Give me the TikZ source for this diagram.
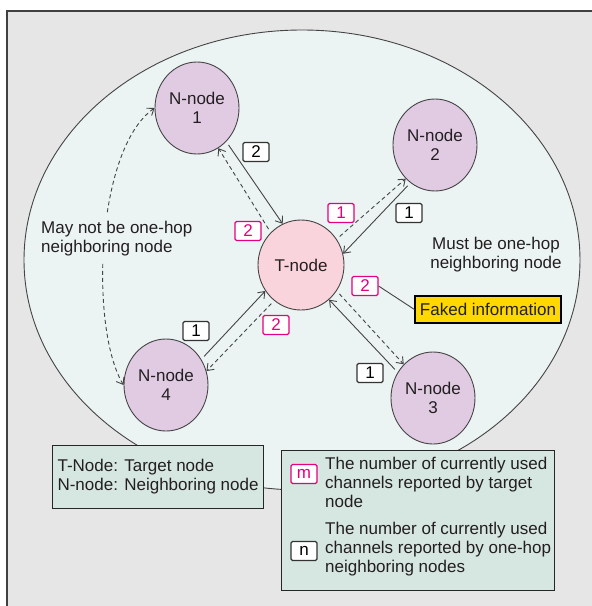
\documentclass[tikz,border=0pt]{standalone}
\usepackage{fontspec}
\setmainfont{Liberation Sans}
\usetikzlibrary{shapes.geometric,arrows.meta}
\definecolor{bg}{HTML}{E6E6E6}
\definecolor{ellfill}{HTML}{ECF3F3}
\definecolor{nfill}{HTML}{E1CBE3}
\definecolor{tfill}{HTML}{FAD4DC}
\definecolor{pinkc}{HTML}{E5007D}
\definecolor{legfill}{HTML}{D6E6E1}
\definecolor{txt}{HTML}{231F20}
\definecolor{yel}{HTML}{FFD800}
\definecolor{lne}{HTML}{444444}
\begin{document}
\begin{tikzpicture}[x=1pt,y=-1pt,
  font=\fontsize{17}{19}\selectfont, text=txt,
  >={Straight Barb[length=6pt,width=9pt]},
  nnode/.style={ellipse, draw=lne, line width=0.9pt, fill=nfill, minimum width=84pt, minimum height=92pt, inner sep=0pt, align=center},
  tnode/.style={nnode, fill=tfill, minimum width=86pt, minimum height=90pt},
  pl/.style={draw=pinkc, line width=1.1pt, fill=white, text=pinkc, rounded corners=1.5pt, minimum width=26pt, minimum height=19pt, inner sep=0pt},
  wl/.style={draw=black!80, line width=1.1pt, fill=white, text=black, rounded corners=1.5pt, minimum width=26pt, minimum height=19pt, inner sep=0pt},
  sarr/.style={draw=lne, line width=0.9pt, ->, shorten <=4pt},
  darr/.style={sarr, dash pattern=on 4pt off 3pt},
  legbox/.style={draw=black!85, line width=1.1pt, fill=legfill, anchor=north west},
]
\useasboundingbox (0,0) rectangle (592,606);
\fill[white] (0,0) rectangle (592,606);
\draw[line width=1.4pt, draw=black!75, fill=bg] (7,11) rectangle (620,640);
\draw[fill=ellfill, draw=lne, line width=0.9pt] (302,260) ellipse [x radius=278, y radius=230];

% nodes
\node[nnode] (n1) at (197,108) {N-node\\1};
\node[nnode] (n2) at (435,145) {N-node\\2};
\node[tnode] (t) at (301,265) {T-node};
\node[nnode] (n4) at (166,385) {N-node\\4};
\node[nnode] (n3) at (433,398) {N-node\\3};

% connectors
\draw[sarr] (n1.-49) -- (t.114);
\draw[darr] (t.133) -- (n1.-62);
\draw[sarr] (n2.-123) -- (t.15);
\draw[darr] (t.36) -- (n2.-131);
\draw[sarr] (n4.36) -- (t.-144);
\draw[darr] (t.-127) -- (n4.19);
\draw[sarr] (n3.144) -- (t.-51);
\draw[darr] (t.-36) -- (n3.131);
\draw[darr, <->, shorten <=0pt] (n4.west) .. controls (90,330) and (95,150) .. (n1.west);

% texts
\node[anchor=north west, fill=ellfill, inner xsep=2pt, inner ysep=6pt, align=left] (mn) at (39,215) {May not be one-hop\\neighboring node};
\node[align=center] (mb) at (496,255) {Must be one-hop\\neighboring node};

% labels
\node[wl] (la) at (256,152) {2};
\node[pl] (lb) at (341,213) {1};
\node[wl] (lc) at (409,213) {1};
\node[pl] (ld) at (248,231) {2};
\node[pl] (le) at (365,286) {2};
\node[pl] (lf) at (276,325) {2};
\node[wl] (lg) at (196,331) {1};
\node[wl] (lh) at (370,373) {1};

\node[draw=black, line width=1.1pt, fill=yel, minimum width=146pt, minimum height=27pt, inner sep=0pt] (fk) at (488,309.5) {Faked information};
\draw[lne, line width=0.9pt] (le.east) -- (fk.west);

% legends
\node[legbox, minimum width=211pt, minimum height=63pt, inner xsep=3pt, align=left] (leg1) at (52,445) {T-Node: Target node\\N-node: Neighboring node};
\node[legbox, minimum width=273pt, minimum height=140pt] (leg2) at (281,450) {};
\node[pl] (lm) at (304,474) {m};
\node[wl] (ln) at (304,551) {n};
\node[anchor=north west, inner sep=0pt, align=left] (tx1) at (325,456.5) {The number of currently used\\channels reported by target\\node};
\node[anchor=north west, inner sep=0pt, align=left] (tx2) at (325,521.5) {The number of currently used\\channels reported by one-hop\\neighboring nodes};
\end{tikzpicture}
\end{document}
